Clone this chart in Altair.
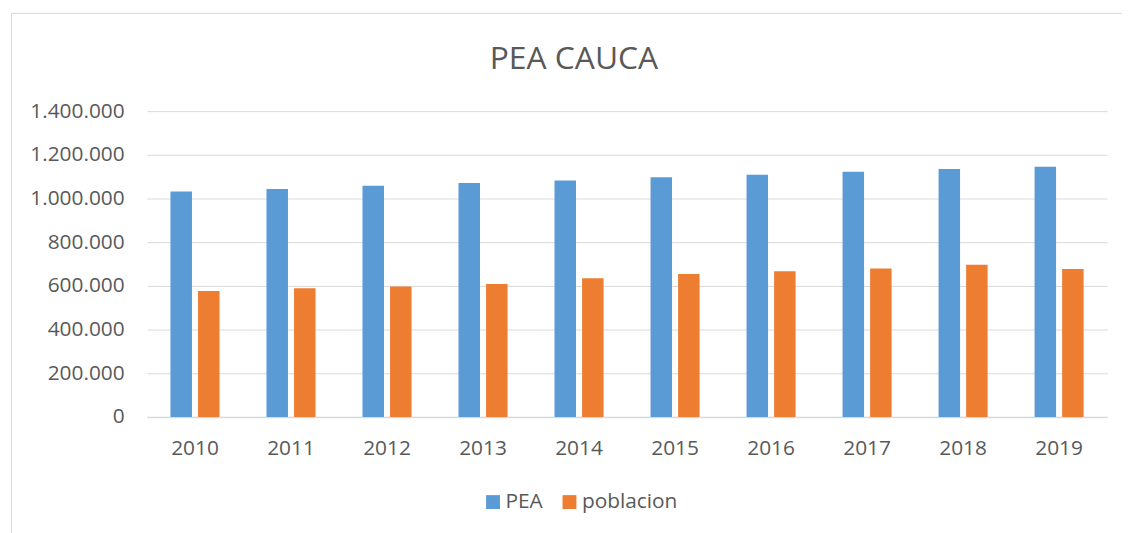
import altair as alt
import pandas as pd

years = ["2010", "2011", "2012", "2013", "2014", "2015", "2016", "2017", "2018", "2019"]
pea = [1032000, 1044000, 1059000, 1071000, 1083000, 1097000, 1109000, 1122000, 1135000, 1145000]
poblacion = [577000, 589000, 597000, 609000, 635000, 654000, 667000, 680000, 697000, 677000]
series = ["PEA", "poblacion"]
colors = ["#5B9BD5", "#ED7D31"]
y_ticks = [0, 200000, 400000, 600000, 800000, 1000000, 1200000, 1400000]
title_text = "PEA CAUCA"

rows = []
for i, yr in enumerate(years):
    rows.append({"year": yr, "serie": series[0], "value": pea[i]})
    rows.append({"year": yr, "serie": series[1], "value": poblacion[i]})
df = pd.DataFrame(rows)

FONT = "Open Sans"
TXT = "#595959"
GRID = "#D9D9D9"

bars = alt.Chart(df).mark_bar().encode(
    x=alt.X("year:N", sort=years,
            scale=alt.Scale(paddingInner=0.489, paddingOuter=0.2445),
            axis=alt.Axis(title=None, labelAngle=0, ticks=False, labelPadding=21,
                          domainColor=GRID, domainWidth=1.5)),
    xOffset=alt.XOffset("serie:N", sort=series,
                        scale=alt.Scale(paddingInner=0.22, paddingOuter=0)),
    y=alt.Y("value:Q",
            scale=alt.Scale(domain=[0, 1400000], nice=False),
            axis=alt.Axis(title=None, values=y_ticks, ticks=False, domain=False,
                          labelPadding=23, gridColor=GRID, gridWidth=1,
                          labelExpr="replace(format(datum.value, ','), regexp(',', 'g'), '.')")),
    color=alt.Color("serie:N", sort=series,
                    scale=alt.Scale(domain=series, range=colors),
                    legend=alt.Legend(title=None, orient="none", direction="horizontal",
                                      legendX=338, legendY=383, symbolType="square",
                                      symbolSize=196, symbolStrokeWidth=0,
                                      columnPadding=16, labelOffset=2, padding=0)),
)

title_mark = alt.Chart(alt.Data(values=[{"t": title_text}])).mark_text(
    font=FONT, fontSize=32, color=TXT, align="center", baseline="alphabetic"
).encode(text="t:N", x=alt.value(430), y=alt.value(-42))

frame_data = alt.Data(values=[{"k": 1}])
left_edge = alt.Chart(frame_data).mark_rule(color=GRID, strokeWidth=1).encode(
    x=alt.value(-136.5), y=alt.value(-98.5), y2=alt.value(440))
top_edge = alt.Chart(frame_data).mark_rule(color=GRID, strokeWidth=1).encode(
    x=alt.value(-136.5), x2=alt.value(1000), y=alt.value(-98.5))

chart = alt.layer(bars, title_mark, left_edge, top_edge).properties(
    width=967, height=308,
    autosize=alt.AutoSizeParams(type="none"),
    padding={"left": 140, "top": 102, "right": 15, "bottom": 115},
).configure_axis(
    labelFont=FONT, labelFontSize=21, labelColor=TXT,
).configure_legend(
    labelFont=FONT, labelFontSize=21, labelColor=TXT,
).configure_view(stroke=None)

chart.save("out.html", embed_options={"renderer": "svg", "actions": False})
